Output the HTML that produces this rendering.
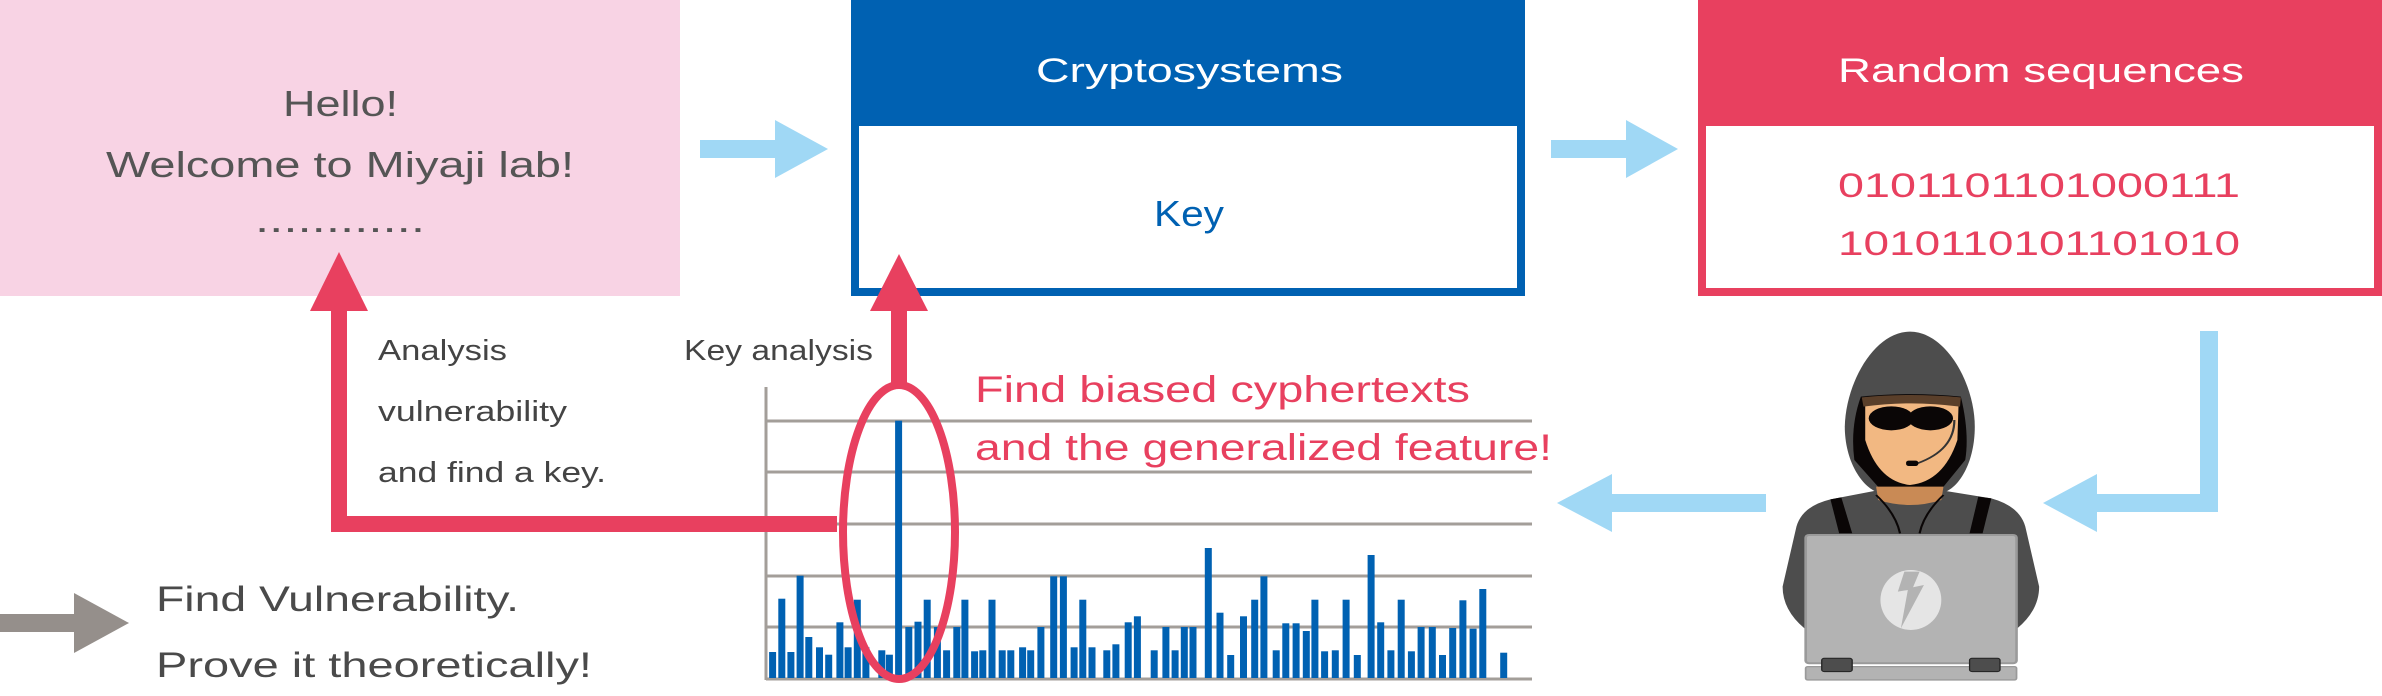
<!DOCTYPE html>
<html><head><meta charset="utf-8"><style>
html,body{margin:0;padding:0;background:#fff;}
svg{display:block;font-family:"Liberation Sans",sans-serif;}
</style></head><body>
<svg width="2382" height="696" viewBox="0 0 2382 696" xmlns="http://www.w3.org/2000/svg">
<!-- Pink box -->
<rect x="0" y="0" width="680" height="296" fill="#f8d3e4"/>
<g fill="#555" font-size="36" text-anchor="start">
<text x="283" y="116" textLength="115" lengthAdjust="spacingAndGlyphs">Hello!</text>
<text x="106" y="177" textLength="468" lengthAdjust="spacingAndGlyphs">Welcome to Miyaji lab!</text>
<text x="255" y="232" textLength="170" lengthAdjust="spacingAndGlyphs">............</text>
</g>
<!-- arrows top -->
<g fill="#a0d8f5">
<rect x="700" y="140" width="80" height="18"/><polygon points="775,120 828,149 775,178"/>
<rect x="1551" y="140" width="80" height="18"/><polygon points="1626,120 1678,149 1626,178"/>
</g>
<!-- Blue box -->
<rect x="851" y="0" width="674" height="296" fill="#0061b2"/>
<rect x="859" y="126" width="658" height="162" fill="#fff"/>
<text x="1036" y="82" font-size="34" fill="#fff" textLength="307" lengthAdjust="spacingAndGlyphs">Cryptosystems</text>
<text x="1154" y="226" font-size="36" fill="#0061b2" textLength="70" lengthAdjust="spacingAndGlyphs">Key</text>
<!-- Red box -->
<rect x="1698" y="0" width="684" height="296" fill="#e8405f"/>
<rect x="1706" y="126" width="668" height="162" fill="#fff"/>
<text x="1838" y="82" font-size="34" fill="#fff" textLength="406" lengthAdjust="spacingAndGlyphs">Random sequences</text>
<g fill="#e8405f" font-size="34">
<text x="1838" y="197" textLength="402" lengthAdjust="spacingAndGlyphs">0101101101000111</text>
<text x="1838" y="255" textLength="402" lengthAdjust="spacingAndGlyphs">1010110101101010</text>
</g>
<!-- light blue connector -->
<g fill="#a0d8f5">
<rect x="2200" y="331" width="18" height="180"/>
<rect x="2090" y="494" width="128" height="18"/>
<polygon points="2097,474 2043,503 2097,532"/>
<rect x="1610" y="494" width="156" height="18"/>
<polygon points="1612,474 1557,503 1612,532"/>
</g>
<!-- chart gridlines -->
<g stroke="#a39e99" stroke-width="3">
<line x1="766" y1="387" x2="766" y2="680"/>
<line x1="766" y1="421" x2="1532" y2="421"/>
<line x1="766" y1="472" x2="1532" y2="472"/>
<line x1="766" y1="524" x2="1532" y2="524"/>
<line x1="766" y1="576" x2="1532" y2="576"/>
<line x1="766" y1="627" x2="1532" y2="627"/>
<line x1="766" y1="679" x2="1532" y2="679"/>
</g>
<g fill="#0061b2" id="bars"></g>
<!-- red arrows -->
<g fill="#e8405f">
<rect x="331" y="300" width="16" height="232"/>
<polygon points="310,311 339,252 368,311"/>
<rect x="331" y="516" width="506" height="16"/>
<rect x="891" y="300" width="16" height="86"/>
<polygon points="870,311 899,254 928,311"/>
</g>
<ellipse cx="899" cy="532" rx="56" ry="147" fill="none" stroke="#e8405f" stroke-width="8"/>
<!-- labels -->
<g fill="#444" font-size="29">
<text x="684" y="360" textLength="189" lengthAdjust="spacingAndGlyphs">Key analysis</text>
<text x="378" y="360" textLength="129" lengthAdjust="spacingAndGlyphs">Analysis</text>
<text x="378" y="421" textLength="189" lengthAdjust="spacingAndGlyphs">vulnerability</text>
<text x="378" y="482" textLength="228" lengthAdjust="spacingAndGlyphs">and find a key.</text>
</g>
<g fill="#e8405f" font-size="37">
<text x="975" y="402" textLength="495" lengthAdjust="spacingAndGlyphs">Find biased cyphertexts</text>
<text x="975" y="460" textLength="577" lengthAdjust="spacingAndGlyphs">and the generalized feature!</text>
</g>
<!-- bottom-left -->
<rect x="0" y="614" width="80" height="18" fill="#958f8b"/>
<polygon points="74,593 129,623 74,653" fill="#958f8b"/>
<g fill="#4a4a4a" font-size="35">
<text x="156" y="611" textLength="363" lengthAdjust="spacingAndGlyphs">Find Vulnerability.</text>
<text x="156" y="677" textLength="436" lengthAdjust="spacingAndGlyphs">Prove it theoretically!</text>
</g>
<!-- hacker -->
<g transform="translate(1700,300) scale(0.4348,0.3333)">
<path d="M300 598 Q230 620 220 690 L190 860 Q190 930 240 985 L730 985 Q780 930 780 860 L750 690 Q740 620 670 595 L560 572 L405 572 Z" fill="#4d4d4d"/>
<path d="M483 95 C400 95 335 250 333 380 C333 480 370 560 410 578 L560 578 C600 560 632 480 632 380 C632 250 565 95 483 95 Z" fill="#4d4d4d"/>
<path d="M370 290 Q483 275 600 290 Q620 400 610 480 L555 568 L415 568 L355 480 Q345 380 370 290 Z" fill="#0a0606"/>
<path d="M405 560 L560 560 L555 600 Q483 630 410 600 Z" fill="#c98a55"/>
<path d="M380 300 Q483 285 595 300 L592 420 Q560 545 483 555 Q410 545 380 420 Z" fill="#f2b882"/>
<path d="M372 292 Q483 278 600 292 L598 320 Q483 300 376 320 Z" fill="#5a3f2a"/>
<path d="M300 598 L320 700 L350 700 L325 592 Z" fill="#0a0606"/>
<path d="M670 595 L650 700 L620 700 L640 590 Z" fill="#0a0606"/>
<path d="M405 585 Q450 640 460 700 M560 585 Q515 640 505 700" stroke="#0a0606" stroke-width="5" fill="none"/>
<ellipse cx="440" cy="355" rx="52" ry="36" fill="#0a0606"/>
<ellipse cx="530" cy="355" rx="52" ry="36" fill="#0a0606"/>
<rect x="470" y="340" width="30" height="8" fill="#0a0606"/>
<path d="M585 360 Q585 450 500 490" stroke="#333" stroke-width="5" fill="none"/>
<rect x="474" y="482" width="28" height="16" rx="6" fill="#0a0606"/>
<rect x="243" y="705" width="485" height="385" rx="8" fill="#b3b3b3" stroke="#9a9a9a" stroke-width="6"/>
<ellipse cx="485" cy="900" rx="70" ry="90" fill="#e5e5e5"/>
<path d="M470 815 L455 875 L478 870 L462 985 L515 855 L490 862 L505 815 Z" fill="#b3b3b3"/>
<rect x="243" y="1100" width="485" height="40" rx="5" fill="#b3b3b3" stroke="#9a9a9a" stroke-width="4"/>
<rect x="280" y="1075" width="70" height="40" rx="6" fill="#4d4d4d" stroke="#222" stroke-width="3"/>
<rect x="620" y="1075" width="70" height="40" rx="6" fill="#4d4d4d" stroke="#222" stroke-width="3"/>
</g>
</svg>
<script>
(function(){
var d=[[57,876],[75,716],[93,876],[111,647],[128,831],[149,862],[167,884],[189,787],[205,862],[223,719],[240,862],[271,871],[286,884],[304,182],[324,801],[342,785],[360,719],[380,801],[398,871],[418,801],[434,719],[453,874],[469,871],[487,719],[507,871],[524,871],[547,862],[563,871],[583,801],[608,649],[627,649],[648,862],[665,719],[683,862],[712,871],[730,853],[754,787],[772,769],[805,871],[828,801],[846,871],[864,801],[881,801],[911,564],[934,758],[955,885],[980,769],[1002,719],[1020,649],[1044,871],[1063,790],[1083,790],[1103,813],[1120,719],[1139,874],[1160,871],[1181,719],[1203,885],[1230,585],[1249,787],[1269,871],[1289,719],[1309,874],[1328,801],[1350,801],[1370,885],[1390,804],[1410,721],[1430,806],[1449,687],[1490,878]];
var g=document.getElementById('bars'),ns='http://www.w3.org/2000/svg';
d.forEach(function(b){var x=740+b[0]/1.96,t=360+b[1]/3;var r=document.createElementNS(ns,'rect');r.setAttribute('x',x.toFixed(1));r.setAttribute('y',t.toFixed(1));r.setAttribute('width','7');r.setAttribute('height',(678-t).toFixed(1));g.appendChild(r);});
})();
</script>
</body></html>
